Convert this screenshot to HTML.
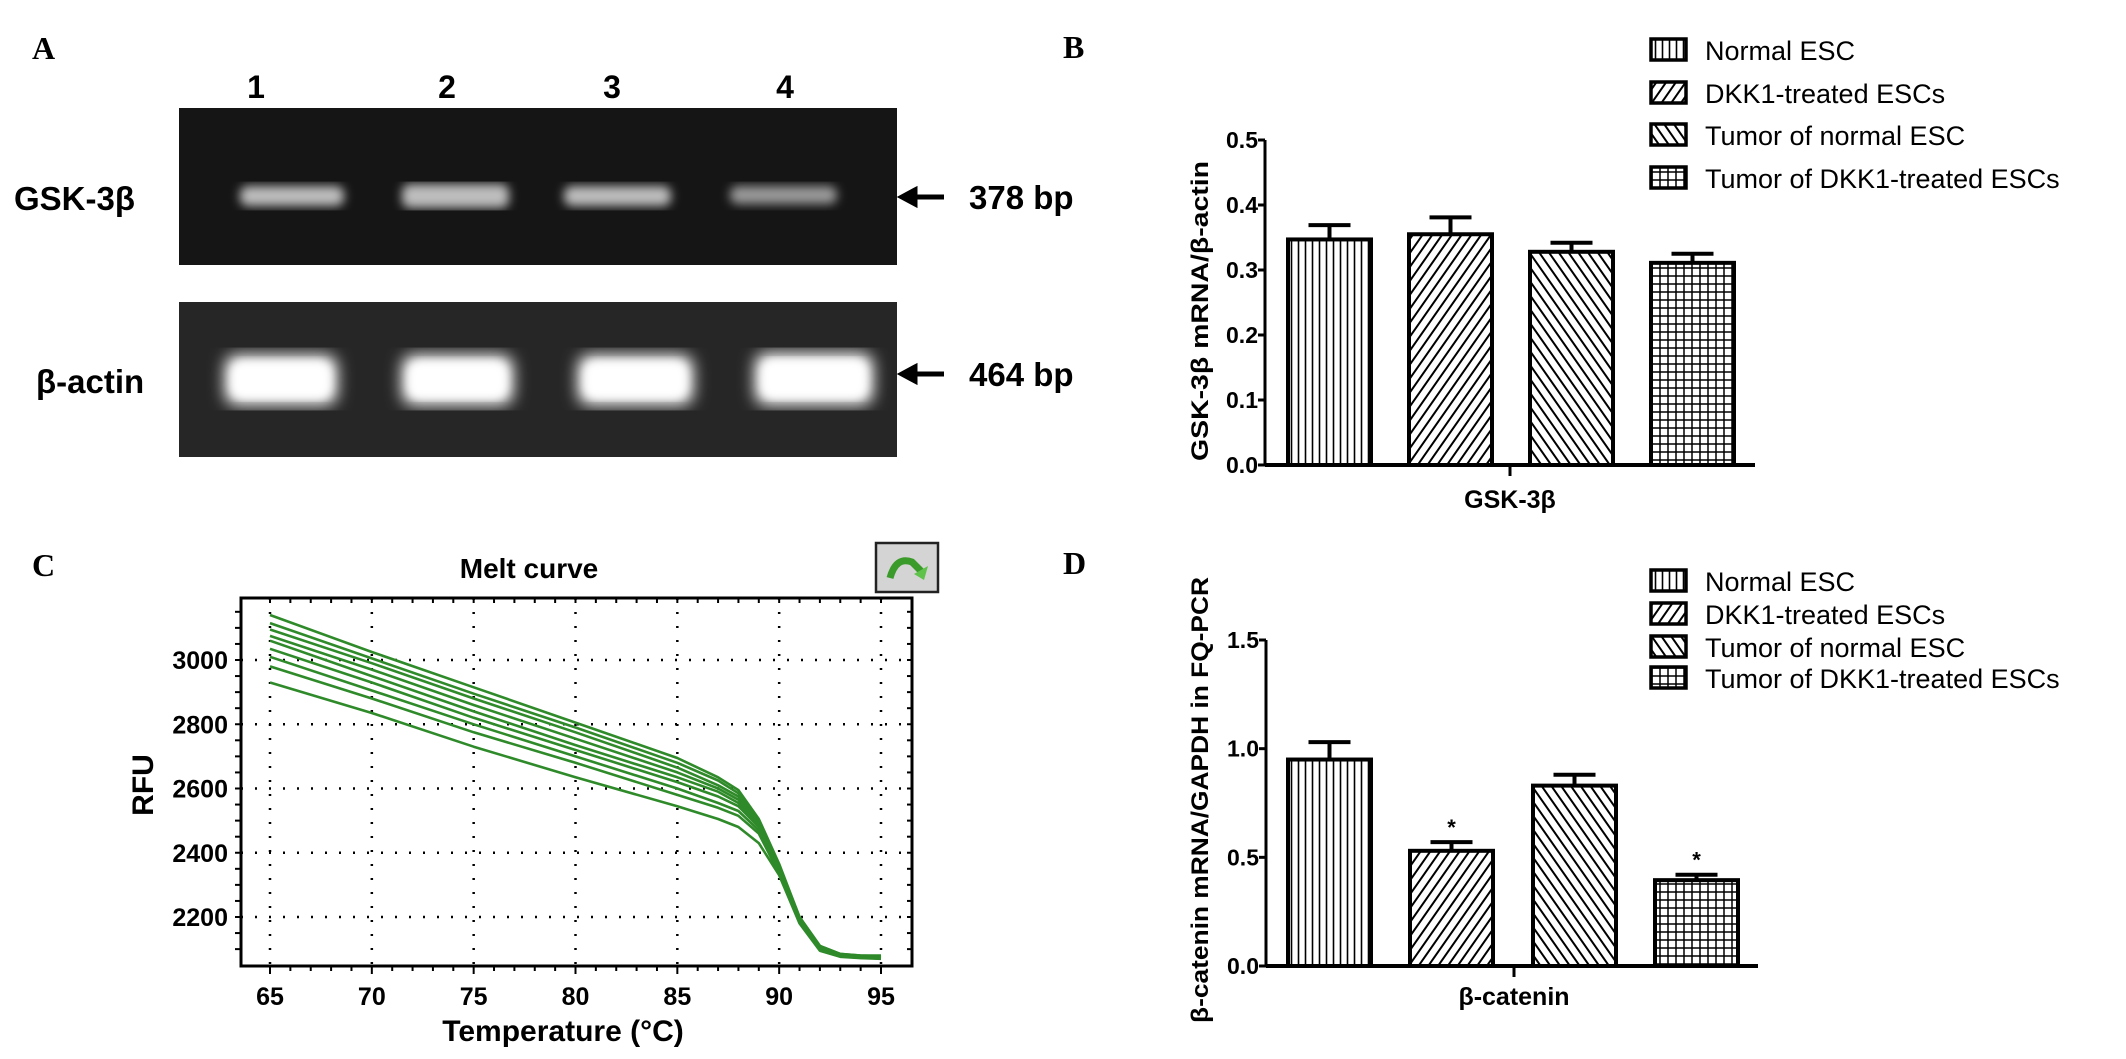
<!DOCTYPE html>
<html><head><meta charset="utf-8"><style>
html,body{margin:0;padding:0;background:#fff}
svg{display:block}
text{font-family:"Liberation Sans",Arial,sans-serif}
.nar{font-family:"Liberation Sans Narrow","Liberation Sans",sans-serif}
.ser{font-family:"Liberation Serif",serif;font-weight:bold}
</style></head><body>
<svg id="fig" width="2126" height="1059" viewBox="0 0 2126 1059" xmlns="http://www.w3.org/2000/svg">
<defs>
<pattern id="pv" width="7" height="7" patternUnits="userSpaceOnUse"><rect width="7" height="7" fill="#fff"/><line x1="3.5" y1="0" x2="3.5" y2="7" stroke="#000" stroke-width="1.6"/></pattern>
<pattern id="pf" width="8" height="8" patternUnits="userSpaceOnUse" patternTransform="rotate(35)"><rect width="8" height="8" fill="#fff"/><line x1="4" y1="0" x2="4" y2="8" stroke="#000" stroke-width="2"/></pattern>
<pattern id="pb" width="8" height="8" patternUnits="userSpaceOnUse" patternTransform="rotate(-35)"><rect width="8" height="8" fill="#fff"/><line x1="4" y1="0" x2="4" y2="8" stroke="#000" stroke-width="2"/></pattern>
<pattern id="pg" width="8" height="8" patternUnits="userSpaceOnUse"><rect width="8" height="8" fill="#fff"/><line x1="4" y1="0" x2="4" y2="8" stroke="#000" stroke-width="1.5"/><line x1="0" y1="4" x2="8" y2="4" stroke="#000" stroke-width="1.5"/></pattern>
<filter id="blur"><feGaussianBlur stdDeviation="5"/></filter>
<filter id="blur2"><feGaussianBlur stdDeviation="8"/></filter>
</defs>

<!-- Panel A -->
<text class="ser" x="32" y="59" font-size="32">A</text>
<g font-weight="bold" font-size="32" text-anchor="middle">
<text x="256" y="98">1</text><text x="447" y="98">2</text><text x="612" y="98">3</text><text x="785" y="98">4</text>
</g>
<rect x="179" y="108" width="718" height="157" fill="#151515"/>
<g filter="url(#blur)" fill="#bdbdbd">
<rect x="240" y="186" width="104" height="20" rx="8"/><rect x="402" y="184" width="107" height="24" rx="8"/>
<rect x="564" y="186" width="107" height="20" rx="8"/><rect x="730" y="186" width="107" height="18" rx="8" fill="#9a9a9a"/>
</g>
<text x="14" y="210" font-size="33" font-weight="bold">GSK-3β</text>
<path d="M944 197 H915 M915 190 L902 197 L915 204 Z" stroke="#000" stroke-width="5" fill="#000"/>
<text x="969" y="209" font-size="33" font-weight="bold">378 bp</text>

<rect x="179" y="302" width="718" height="155" fill="#262626"/>
<g filter="url(#blur2)" fill="#fff">
<rect x="225" y="355" width="112" height="50" rx="12"/><rect x="402" y="355" width="111" height="50" rx="12"/>
<rect x="578" y="355" width="115" height="50" rx="12"/><rect x="755" y="353" width="118" height="52" rx="12"/>
</g>
<g filter="url(#blur)" fill="#fff">
<rect x="232" y="362" width="98" height="36" rx="10"/><rect x="409" y="362" width="97" height="36" rx="10"/>
<rect x="585" y="362" width="101" height="36" rx="10"/><rect x="762" y="360" width="104" height="38" rx="10"/>
</g>
<text x="36" y="393" font-size="33" font-weight="bold">β-actin</text>
<path d="M944 374 H915 M915 367 L902 374 L915 381 Z" stroke="#000" stroke-width="5" fill="#000"/>
<text x="969" y="386" font-size="33" font-weight="bold">464 bp</text>

<!-- Panel labels -->
<text class="ser" x="1063" y="58" font-size="32">B</text>
<text class="ser" x="32" y="576" font-size="32">C</text>
<text class="ser" x="1063" y="574" font-size="32">D</text>

<!-- Panel C static -->
<text x="529" y="578" font-size="28" font-weight="bold" text-anchor="middle">Melt curve</text>
<g>
<rect x="876" y="543" width="62" height="49" fill="#d4d4d4" stroke="#222" stroke-width="2.5"/>
<path d="M890 578 Q896 556 912 562 L922 572" stroke="#3a9a2a" stroke-width="7" fill="none"/>
<path d="M914 574 L928 566 L924 580 Z" fill="#5fc24a"/>
</g>
<g id="chartC"></g>
<g id="chartB"></g>
<g id="chartD"></g>
</svg>
<script>
// ---- Panel C data ----
const meltTemps = [65,70,75,80,85,87,88,89,90,91,92,93,94,95];
const melt1 = [3140,3025,2915,2805,2695,2635,2595,2505,2365,2200,2110,2085,2080,2080];
const melt2 = [3115,3005,2895,2790,2680,2625,2585,2500,2360,2200,2110,2085,2080,2078];
const melt3 = [3095,2990,2880,2775,2665,2610,2575,2495,2355,2195,2105,2083,2078,2076];
const melt4 = [3075,2970,2860,2755,2650,2600,2565,2490,2350,2195,2105,2082,2077,2075];
const melt5 = [3060,2950,2840,2735,2635,2590,2555,2485,2350,2190,2100,2080,2076,2074];
const melt6 = [3035,2930,2820,2720,2620,2575,2545,2480,2345,2190,2100,2080,2075,2073];
const melt7 = [3010,2905,2800,2700,2600,2555,2530,2470,2340,2185,2098,2078,2074,2072];
const melt8 = [2980,2880,2775,2680,2580,2540,2515,2460,2335,2185,2097,2077,2073,2071];
const melt9 = [2930,2835,2730,2635,2545,2505,2480,2430,2330,2180,2095,2076,2072,2070];
const meltSeries = [melt1,melt2,melt3,melt4,melt5,melt6,melt7,melt8,melt9];
const cXTicks = [65,70,75,80,85,90,95];
const cYTicks = [2200,2400,2600,2800,3000];

// ---- Panel B data ----
const groups = ["Normal ESC","DKK1-treated ESCs","Tumor of normal ESC","Tumor of DKK1-treated ESCs"];
const gskValues = [0.347,0.355,0.328,0.311];
const gskErrors = [0.022,0.026,0.014,0.014];
const gskTicks = ["0.0","0.1","0.2","0.3","0.4","0.5"];
// ---- Panel D data ----
const catValues = [0.95,0.53,0.83,0.395];
const catErrors = [0.08,0.04,0.05,0.025];
const catStars = ["","*","","*"];
const catTicks = ["0.0","0.5","1.0","1.5"];

const NS="http://www.w3.org/2000/svg";
function mk(parent,tag,attrs,txt){const e=document.createElementNS(NS,tag);for(const k in attrs)e.setAttribute(k,attrs[k]);if(txt!==undefined)e.textContent=txt;parent.appendChild(e);return e;}

// Panel C
(function(){
  const g=document.getElementById('chartC');
  const L=241,R=912,T=598,B=966;
  const x=t=>270+(t-65)*(881-270)/30;
  const y=v=>660+(3000-v)*(917-660)/800;
  const frame=mk(g,'rect',{x:L,y:T,width:R-L,height:B-T,fill:'#fff',stroke:'#000','stroke-width':3});
  
  
  cXTicks.forEach(t=>{
    const gl=mk(g,'line',{x1:x(t),y1:T,x2:x(t),y2:B,stroke:'#000','stroke-width':2.5,'stroke-dasharray':'2 12'});
    
    
    const lb=mk(g,'text',{x:x(t),y:1005,'font-size':25,'font-weight':'bold','text-anchor':'middle',class:'nar'},String(t));
    
    
  });
  for(let t=65;t<=95;t++){mk(g,'line',{x1:x(t),y1:B,x2:x(t),y2:B+(t%5?5:8),stroke:'#000','stroke-width':2});mk(g,'line',{x1:x(t),y1:T,x2:x(t),y2:T+5,stroke:'#000','stroke-width':2});}
  cYTicks.forEach(v=>{
    const gl=mk(g,'line',{x1:L,y1:y(v),x2:R,y2:y(v),stroke:'#000','stroke-width':2.5,'stroke-dasharray':'2 12'});
    
    
    const lb=mk(g,'text',{x:228,y:y(v)+9,'font-size':25,'font-weight':'bold','text-anchor':'end',class:'nar'},String(v));
    
    
  });
  for(let v=2100;v<=3150;v+=50){if(y(v)>T&&y(v)<B){mk(g,'line',{x1:L-6,y1:y(v),x2:L,y2:y(v),stroke:'#000','stroke-width':2});mk(g,'line',{x1:R-5,y1:y(v),x2:R,y2:y(v),stroke:'#000','stroke-width':2});}}
  meltSeries.forEach((s,i)=>{
    const d=s.map((v,j)=>(j?'L':'M')+x(meltTemps[j]).toFixed(1)+' '+y(v).toFixed(1)).join(' ');
    const p=mk(g,'path',{d:d,fill:'none',stroke:'#2f8a2a','stroke-width':2.6,'stroke-linejoin':'round'});
    
    
  });
  const xt=mk(g,'text',{x:563,y:1041,'font-size':30,'font-weight':'bold','text-anchor':'middle'},'Temperature (°C)');
  
  
  const yt=mk(g,'text',{x:0,y:0,'font-size':30,'font-weight':'bold','text-anchor':'middle',transform:'translate(153,785) rotate(-90)'},'RFU');
  
  
})();

const fills=['url(#pv)','url(#pf)','url(#pb)','url(#pg)'];
function barChart(id,cfg){
  const g=document.getElementById(id);
  const {x0,x1,y0,ymax,yTop,bars,values,errors,ticks,stars,xlabel,ytitle,ylen,legY,tickX,xlabY}=cfg;
  const y=v=>y0-(v/ymax)*(y0-yTop);
  mk(g,'line',{x1:x0,y1:y0,x2:x1,y2:y0,stroke:'#000','stroke-width':4});
  mk(g,'line',{x1:x0,y1:y0,x2:x0,y2:yTop,stroke:'#000','stroke-width':3});
  mk(g,'line',{x1:tickX,y1:y0,x2:tickX,y2:y0+11,stroke:'#000','stroke-width':3});
  ticks.forEach(t=>{
    const v=parseFloat(t);
    mk(g,'line',{x1:x0-7,y1:y(v),x2:x0,y2:y(v),stroke:'#000','stroke-width':3});
    const lb=mk(g,'text',{x:x0-7,y:y(v)+8,'font-size':23,'font-weight':'bold','text-anchor':'end',class:'nar'},t);
    
    
  });
  values.forEach((v,i)=>{
    const bx=bars[i],w=83,cx=bx+w/2;
    const top=y(v+errors[i]);
    const e=mk(g,'path',{d:`M${cx} ${y(v)} V${top} M${cx-21} ${top} H${cx+21}`,stroke:'#000','stroke-width':4,fill:'none'});
    
    
    const r=mk(g,'rect',{x:bx,y:y(v),width:w,height:y0-y(v),fill:fills[i],stroke:'#000','stroke-width':4});
    
    
    if(stars&&stars[i]){const s=mk(g,'text',{x:cx,y:top-7,'font-size':22,'font-weight':'bold','text-anchor':'middle'},stars[i]);
      
      }
  });
  const xl=mk(g,'text',{x:tickX,y:xlabY,'font-size':25,'font-weight':'bold','text-anchor':'middle',class:'nar'},xlabel);
  
  
  const yt=mk(g,'text',{x:0,y:0,'font-size':24,'font-weight':'bold','text-anchor':'middle',textLength:ylen,lengthAdjust:'spacingAndGlyphs',transform:`translate(${cfg.ytx},${cfg.yty}) rotate(-90)`},ytitle);
  
  
  groups.forEach((gname,i)=>{
    const ly=legY[i];
    const b=mk(g,'rect',{x:1651,y:ly-11,width:35,height:21,fill:fills[i],stroke:'#000','stroke-width':3.5});
    
    
    const t=mk(g,'text',{x:1705,y:ly+10,'font-size':27,class:'nar'},gname);
    
    
  });
}
barChart('chartB',{x0:1265,x1:1755,y0:465,ymax:0.5,yTop:140,bars:[1288,1409,1530,1651],values:gskValues,errors:gskErrors,ticks:gskTicks,stars:null,xlabel:'GSK-3β',ytitle:'GSK-3β mRNA/β-actin',ylen:300,ytx:1208,yty:311,legY:[50,93,135,178],tickX:1510,xlabY:508});
barChart('chartD',{x0:1266,x1:1758,y0:966,ymax:1.5,yTop:640,bars:[1288,1410,1533,1655],values:catValues,errors:catErrors,ticks:catTicks,stars:catStars,xlabel:'β-catenin',ytitle:'β-catenin mRNA/GAPDH in FQ-PCR',ylen:446,ytx:1208,yty:800,legY:[581,614,647,678],tickX:1514,xlabY:1005});
</script>
</body></html>
